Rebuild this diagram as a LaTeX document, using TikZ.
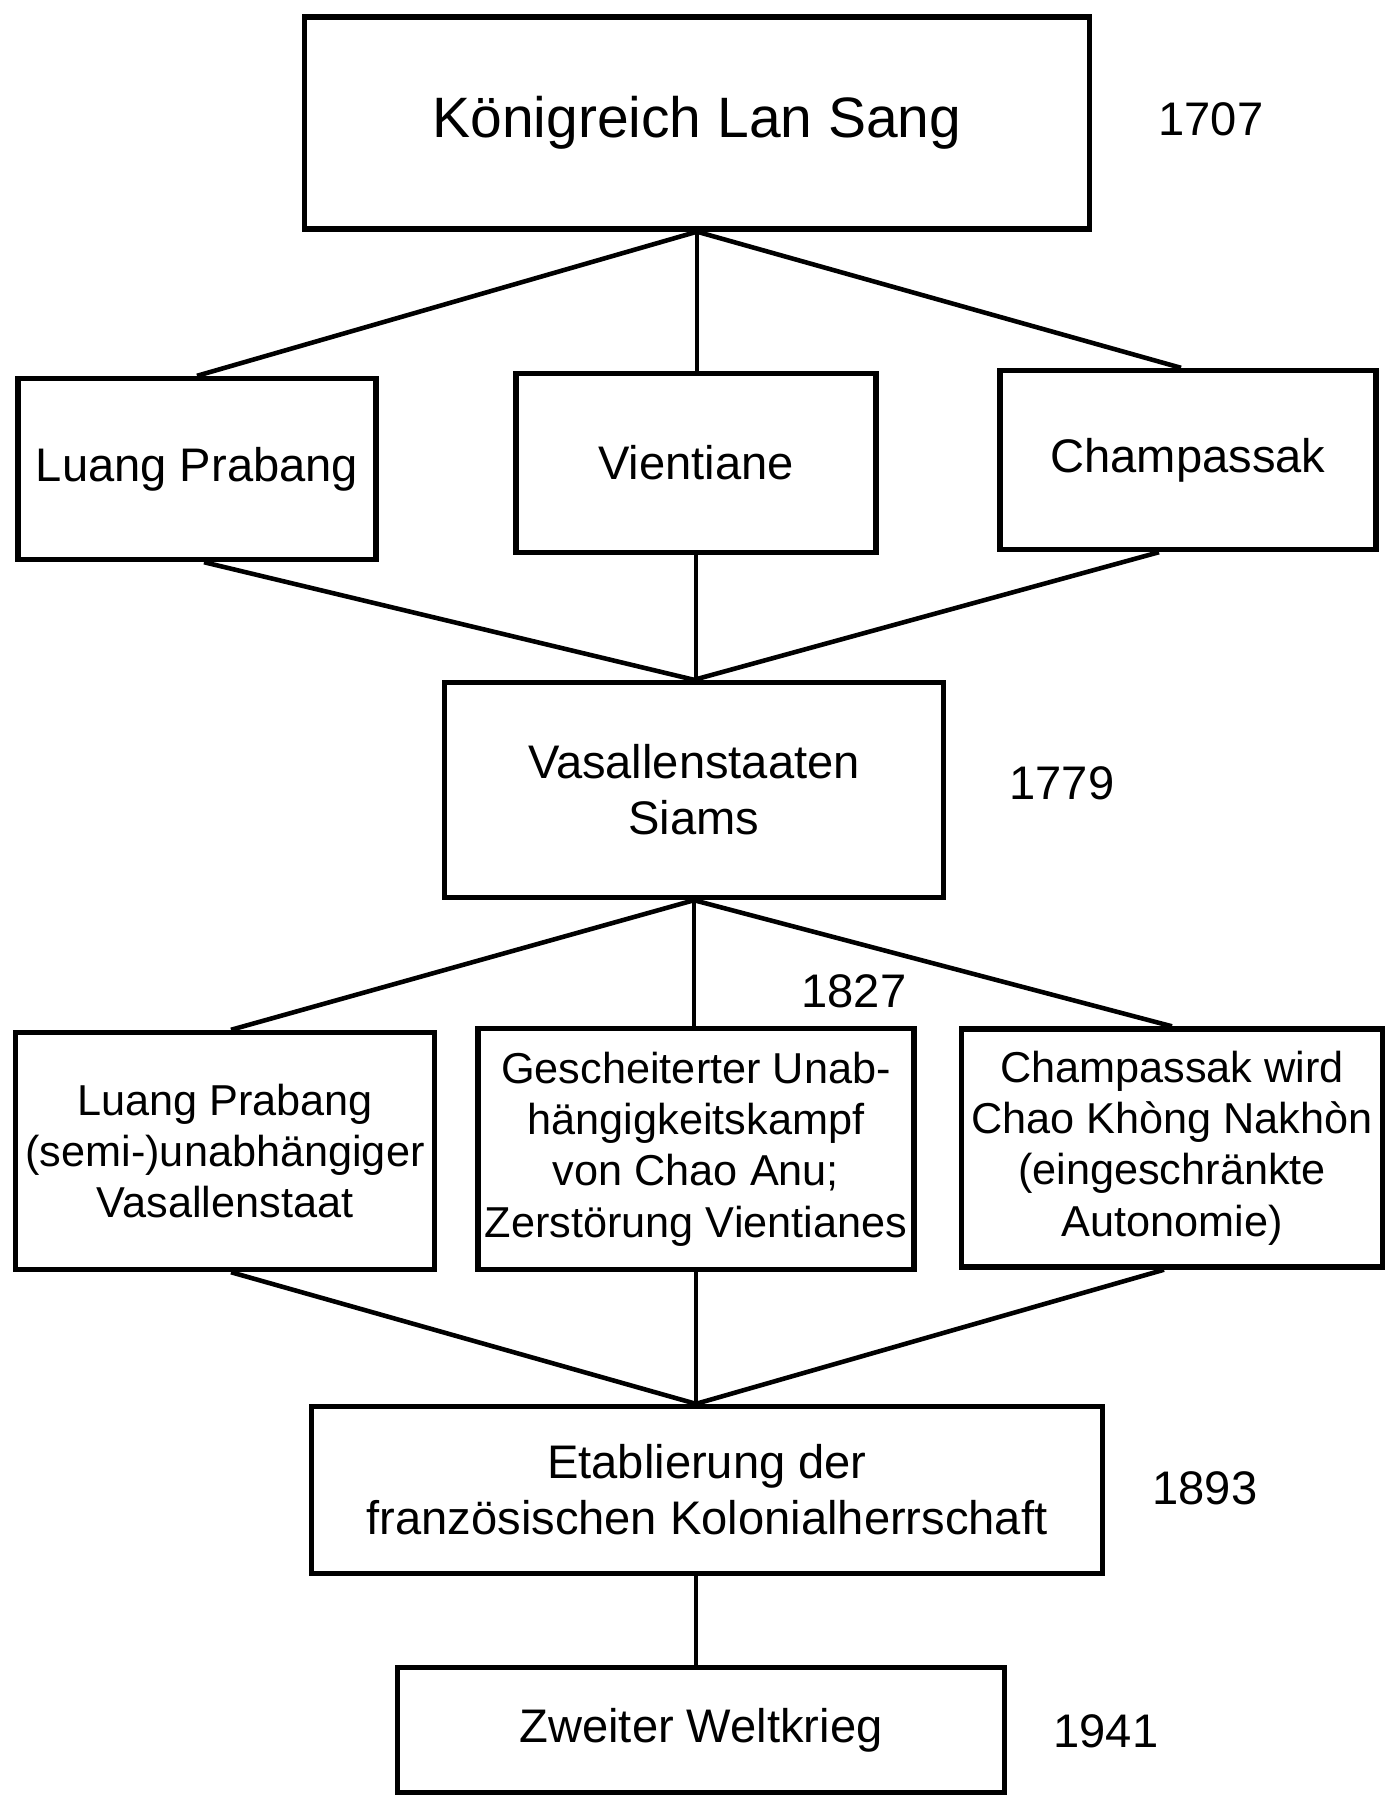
\documentclass[tikz,border=0pt]{standalone}
\usepackage{fontspec}
\setmainfont{Liberation Sans}
\usepackage{tikz}

\begin{document}
\begin{tikzpicture}[x=0.01cm, y=-0.01cm,
  box/.style={draw, line width=1.5pt, inner sep=0pt, align=center, font=\fontsize{13.4}{16}\selectfont},
  smallbox/.style={box, font=\fontsize{12.3}{14.6}\selectfont},
  year/.style={font=\fontsize{13.4}{16}\selectfont},
  link/.style={line width=1.3pt},
  stem/.style={line width=1.0pt}]

\useasboundingbox (0,0) rectangle (1388,1808);

% Boxes, from top to bottom
\node[box, minimum width=7.85cm, minimum height=2.12cm, font=\fontsize{16.2}{19}\selectfont] (lansang) at (697,123) {Königreich Lan Sang};

\node[box, minimum width=3.58cm, minimum height=1.81cm] (lp) at (197,469) {Luang Prabang};
\node[box, minimum width=3.60cm, minimum height=1.79cm] (vt) at (696,463) {Vientiane};
\node[box, minimum width=3.76cm, minimum height=1.79cm] (cp) at (1188,460) {Champassak};

\node[box, minimum width=4.98cm, minimum height=2.15cm] (vs) at (694,790) {Vasallenstaaten\\Siams};

\node[smallbox, minimum width=4.19cm, minimum height=2.37cm] (lpsemi) at (225,1151) {Luang Prabang\\(semi-)unabhängiger\\Vasallenstaat};
\node[smallbox, minimum width=4.36cm, minimum height=2.41cm] (anu) at (696,1149) {Gescheiterter Unab-\\hängigkeitskampf\\von Chao Anu;\\Zerstörung Vientianes};
\node[smallbox, minimum width=4.21cm, minimum height=2.38cm] (cpkn) at (1172,1148) {Champassak wird\\Chao Khòng Nakhòn\\(eingeschränkte\\Autonomie)};

\node[box, minimum width=7.90cm, minimum height=1.67cm] (kolonie) at (707,1490) {Etablierung der\\französischen Kolonialherrschaft};
\node[box, minimum width=6.06cm, minimum height=1.25cm] (krieg) at (701,1730) {Zweiter Weltkrieg};

% Years
\node[year] (y1707) at (1211,119) {1707};
\node[year] (y1779) at (1062,783) {1779};
\node[year] (y1827) at (854,991) {1827};
\node[year] (y1893) at (1205,1488) {1893};
\node[year] (y1941) at (1106,1731) {1941};

% Connectors
\draw[link] (lansang.south) -- (lp.north);
\draw[stem] (lansang.south) -- (lansang.south |- vt.north);
\draw[link] (lansang.south) -- ([xshift=-0.07cm]cp.north);

\draw[link] ([xshift=0.07cm]lp.south) -- (vs.north);
\draw[stem] (vt.south) -- (vt.south |- vs.north);
\draw[link] ([xshift=-0.29cm]cp.south) -- (vs.north);

\draw[link] (vs.south) -- ([xshift=0.06cm]lpsemi.north);
\draw[stem] (vs.south) -- (vs.south |- anu.north);
\draw[link] (vs.south) -- (cpkn.north);

\coordinate (koltop) at (anu.south |- kolonie.north);
\draw[link] ([xshift=0.06cm]lpsemi.south) -- (koltop);
\draw[stem] (anu.south) -- (koltop);
\draw[link] ([xshift=-0.08cm]cpkn.south) -- (koltop);

\draw[stem] (koltop |- kolonie.south) -- (koltop |- krieg.north);

\end{tikzpicture}
\end{document}
